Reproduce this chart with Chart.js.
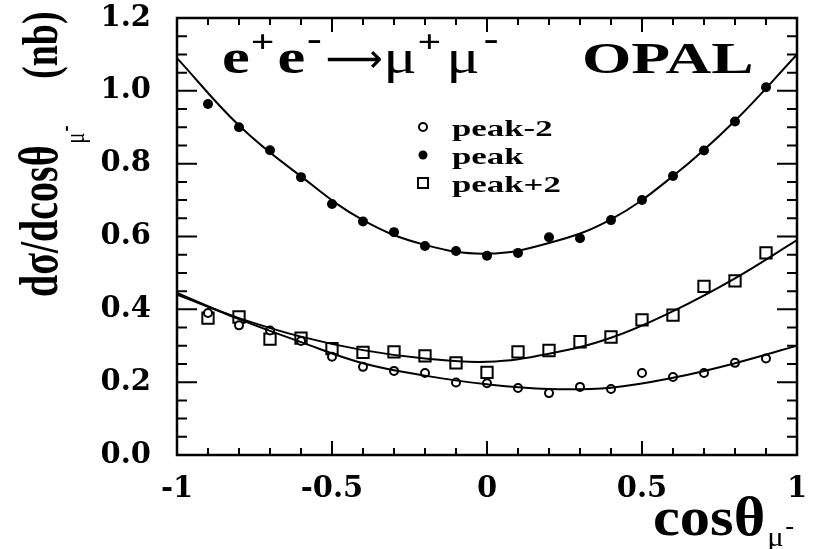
<!DOCTYPE html>
<html>
<head>
<meta charset="utf-8">
<script src="https://cdn.jsdelivr.net/npm/chart.js@4.4.1/dist/chart.umd.min.js"></script>
<style>
  body { margin: 0; background: #fff; }
  canvas { display: block; }
</style>
</head>
<body>
<canvas id="opal" width="815" height="549"></canvas>
<script>
// measured points, cos(theta) bins
const xBins   = [-0.9, -0.8, -0.7, -0.6, -0.5, -0.4, -0.3, -0.2, -0.1, 0.0, 0.1, 0.2, 0.3, 0.4, 0.5, 0.6, 0.7, 0.8, 0.9];
const peakM2  = [0.390, 0.356, 0.342, 0.313, 0.270, 0.242, 0.231, 0.225, 0.199, 0.197, 0.184, 0.170, 0.187, 0.181, 0.225, 0.214, 0.225, 0.253, 0.265];
const peak    = [0.964, 0.900, 0.837, 0.763, 0.689, 0.641, 0.612, 0.574, 0.560, 0.547, 0.555, 0.598, 0.595, 0.645, 0.700, 0.766, 0.836, 0.916, 1.010];
const peakP2  = [0.376, 0.379, 0.318, 0.321, 0.292, 0.282, 0.283, 0.272, 0.253, 0.227, 0.283, 0.287, 0.311, 0.324, 0.371, 0.384, 0.463, 0.478, 0.555];

// fitted curves
const xFit      = [-1, -0.8, -0.6, -0.4, -0.2, 0, 0.2, 0.4, 0.6, 0.8, 1];
const peakM2Fit = [0.445, 0.373, 0.310, 0.252, 0.218, 0.194, 0.181, 0.185, 0.212, 0.252, 0.300];
const peakFit   = [1.090, 0.905, 0.765, 0.645, 0.577, 0.553, 0.582, 0.647, 0.766, 0.918, 1.100];
const peakP2Fit = [0.440, 0.376, 0.325, 0.288, 0.265, 0.256, 0.278, 0.322, 0.395, 0.485, 0.590];

const legendLabels = ['peak-2', 'peak', 'peak+2'];

function pts(xs, ys) {
    return xs.map((x, i) => ({x: x, y: ys[i]}));
}

const SERIF = '"Liberation Serif", "Times New Roman", serif';

// draw a piece of text stretched sideways, returns its width
function txt(ctx, s, x, y, font, sx) {
    ctx.save();
    ctx.translate(x, y);
    ctx.scale(sx, 1);
    ctx.font = font;
    ctx.fillText(s, 0, 0);
    const w = ctx.measureText(s).width * sx;
    ctx.restore();
    return w;
}

const framePlugin = {
    id: 'frame',
    afterDraw(chart) {
        const ctx = chart.ctx;
        const a = chart.chartArea;
        const xs = chart.scales.x, ys = chart.scales.y;
        ctx.save();
        ctx.strokeStyle = '#000';
        ctx.fillStyle = '#000';

        // inside ticks, all four sides
        ctx.lineWidth = 2;
        ctx.beginPath();
        for (let i = -10; i <= 10; i++) {
            const px = xs.getPixelForValue(i / 10);
            const len = (i % 5 === 0) ? 14 : 7;
            ctx.moveTo(px, a.bottom); ctx.lineTo(px, a.bottom - len);
            ctx.moveTo(px, a.top);    ctx.lineTo(px, a.top + len);
        }
        for (let j = 0; j <= 24; j++) {
            const py = ys.getPixelForValue(j * 0.05);
            const len = (j % 4 === 0) ? 20 : 10;
            ctx.moveTo(a.left, py);  ctx.lineTo(a.left + len, py);
            ctx.moveTo(a.right, py); ctx.lineTo(a.right - len, py);
        }
        ctx.stroke();

        ctx.lineWidth = 2.5;
        ctx.strokeRect(a.left, a.top, a.right - a.left, a.bottom - a.top);

        // process label
        ctx.textBaseline = 'alphabetic';
        let x = 222;
        const sx = 1.3;
        x += txt(ctx, 'e', x, 73, 'bold 48px ' + SERIF, sx);
        x += txt(ctx, '+', x + 1, 52, 'bold 32px ' + SERIF, sx) + 4;
        x += txt(ctx, 'e', x, 73, 'bold 48px ' + SERIF, sx);
        x += txt(ctx, '-', x + 2, 50, 'bold 34px ' + SERIF, sx) + 6;
        x += txt(ctx, '\u27f6', x, 72, '40px "DejaVu Sans", sans-serif', 1.0);
        x += txt(ctx, '\u03bc', x, 73, '48px ' + SERIF, sx);
        x += txt(ctx, '+', x + 1, 52, 'bold 32px ' + SERIF, sx) + 6;
        x += txt(ctx, '\u03bc', x, 73, '48px ' + SERIF, sx);
        txt(ctx, '-', x + 4, 50, 'bold 34px ' + SERIF, sx);

        txt(ctx, 'OPAL', 582, 73, 'bold 45px ' + SERIF, 1.41);

        // legend
        const lx = 423, rows = [127, 155, 183];
        ctx.lineWidth = 2;
        ctx.beginPath(); ctx.arc(lx, rows[0], 4, 0, Math.PI * 2); ctx.stroke();
        ctx.beginPath(); ctx.arc(lx, rows[1], 4.5, 0, Math.PI * 2); ctx.fill();
        ctx.strokeRect(lx - 5, rows[2] - 5, 10, 10);
        legendLabels.forEach((s, i) => {
            txt(ctx, s, 452, rows[i] + 9, 'bold 24px ' + SERIF, 1.45);
        });

        // x axis title
        let tx = 653;
        tx += txt(ctx, 'cos\u03b8', tx, 535, 'bold 55px ' + SERIF, 1.1);
        txt(ctx, '\u03bc', tx + 2, 546, '28px ' + SERIF, 1.1);
        txt(ctx, '-', tx + 20, 534, 'bold 24px ' + SERIF, 1.1);

        // y axis title, rotated
        ctx.translate(57, 297);
        ctx.rotate(-Math.PI / 2);
        ctx.scale(1, 1.35);
        ctx.font = 'bold 40px ' + SERIF;
        ctx.fillText('d\u03c3/dcos\u03b8', 0, 0);
        const w = ctx.measureText('d\u03c3/dcos\u03b8').width;
        ctx.font = '20px ' + SERIF;
        ctx.fillText('\u03bc', w + 2, 20);
        ctx.font = 'bold 18px ' + SERIF;
        ctx.fillText('-', w + 14, 12);
        ctx.font = 'bold 38px ' + SERIF;
        ctx.fillText('(nb)', 218, 0);

        ctx.restore();
    }
};

const tickFont = { family: '"DejaVu Serif", serif', size: 29, weight: 'bold' };

const lineStyle = {
    showLine: true, pointRadius: 0, borderColor: '#000', borderWidth: 2,
    tension: 0.4, fill: false
};

new Chart(document.getElementById('opal'), {
    type: 'scatter',
    data: {
        datasets: [
            Object.assign({ label: 'peak-2 fit', data: pts(xFit, peakM2Fit) }, lineStyle),
            Object.assign({ label: 'peak fit',   data: pts(xFit, peakFit) },   lineStyle),
            Object.assign({ label: 'peak+2 fit', data: pts(xFit, peakP2Fit) }, lineStyle),
            {
                label: legendLabels[0], data: pts(xBins, peakM2),
                pointStyle: 'circle', pointRadius: 4, pointBorderWidth: 2,
                pointBackgroundColor: '#fff', pointBorderColor: '#000'
            },
            {
                label: legendLabels[1], data: pts(xBins, peak),
                pointStyle: 'circle', pointRadius: 5, pointBorderWidth: 0,
                pointBackgroundColor: '#000', pointBorderColor: '#000'
            },
            {
                label: legendLabels[2], data: pts(xBins, peakP2),
                pointStyle: 'rect', pointRadius: 8, pointBorderWidth: 2,
                pointBackgroundColor: '#fff', pointBorderColor: '#000'
            }
        ]
    },
    options: {
        responsive: false,
        animation: false,
        layout: { padding: { left: 0, right: 18, top: 18, bottom: 0 } },
        plugins: { legend: { display: false }, tooltip: { enabled: false } },
        scales: {
            x: {
                type: 'linear', min: -1, max: 1,
                grid: { display: false, drawTicks: false },
                border: { display: false },
                ticks: { stepSize: 0.5, padding: 17, color: '#000', font: tickFont, maxRotation: 0,
                         callback: (v) => (Number.isInteger(v) ? String(v) : v.toFixed(1)) },
                afterFit: (s) => { s.height = 94; s.paddingLeft = 0; s.paddingRight = 0; }
            },
            y: {
                min: 0, max: 1.2,
                grid: { display: false, drawTicks: false },
                border: { display: false },
                ticks: { stepSize: 0.2, padding: 26, color: '#000', font: tickFont,
                         callback: (v) => v.toFixed(1) },
                afterFit: (s) => { s.width = 177; s.paddingTop = 0; s.paddingBottom = 0; }
            }
        }
    },
    plugins: [framePlugin]
});
</script>
</body>
</html>
